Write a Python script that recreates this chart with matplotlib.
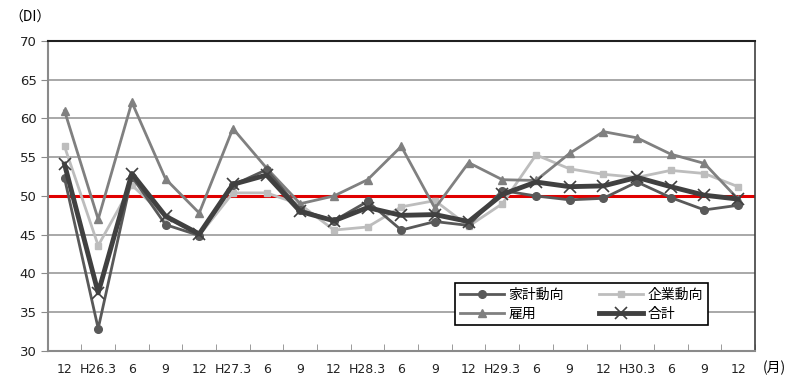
import matplotlib
matplotlib.use("Agg")
import matplotlib.pyplot as plt
import numpy as np

plt.rcParams["font.family"] = ["DejaVu Sans", "Noto Sans CJK JP"]

# quarterly survey points, H25.12 .. H30.12
months = ["12", "H26.3", "6", "9", "12", "H27.3", "6", "9", "12", "H28.3", "6",
          "9", "12", "H29.3", "6", "9", "12", "H30.3", "6", "9", "12"]

household = [52.3, 32.9, 52.5, 46.3, 44.9, 51.4, 53.4, 48.2, 46.8, 49.3, 45.6,
             46.7, 46.2, 50.7, 50.0, 49.5, 49.7, 51.8, 49.8, 48.2, 48.8]
corporate = [56.4, 43.6, 51.4, 47.3, 44.9, 50.4, 50.4, 48.9, 45.6, 46.0, 48.6,
             49.4, 46.1, 49.0, 55.3, 53.5, 52.8, 52.4, 53.3, 52.9, 51.2]
employment = [61.0, 47.0, 62.1, 52.2, 47.8, 58.7, 53.6, 49.0, 50.0, 52.1, 56.4,
              48.4, 54.3, 52.1, 52.0, 55.5, 58.3, 57.5, 55.4, 54.2, 49.6]
total = [54.1, 37.5, 52.9, 47.4, 45.1, 51.5, 52.7, 48.0, 46.8, 48.5, 47.5,
         47.6, 46.7, 50.2, 51.8, 51.2, 51.3, 52.4, 51.2, 50.1, 49.6]

x = np.arange(len(months))

fig = plt.figure(figsize=(7.88, 3.89), dpi=100)
ax = fig.add_axes([0.0605, 0.0977, 0.8975, 0.797])

for yv in range(35, 71, 5):
    ax.axhline(yv, color="#9a9a9a", lw=1.2, zorder=1)
ax.axhline(50, color="#e00000", lw=2.2, zorder=2)

ax.plot(x, household, color="#595959", lw=2, marker="o", ms=5.5, label="家計動向", zorder=4)
ax.plot(x, corporate, color="#bdbdbd", lw=2, marker="s", ms=5, label="企業動向", zorder=3)
ax.plot(x, employment, color="#808080", lw=2, marker="^", ms=5.5, label="雇用", zorder=3)
ax.plot(x, total, color="#404040", lw=3.5, marker="x", ms=9, mew=1.2, label="合計", zorder=5)

ax.set_xlim(-0.5, len(months) - 0.5)
ax.set_ylim(30, 70)
ax.set_yticks(range(30, 71, 5))
ax.set_xticks(x)
ax.set_xticklabels(months)
ax.set_xticks(np.arange(-0.5, len(months), 1), minor=True)
ax.tick_params(axis="x", which="major", length=0, labelsize=9, pad=9, colors="#222222")
ax.tick_params(axis="x", which="minor", length=5, direction="in", color="#8a8a8a")
ax.tick_params(axis="y", length=5, color="#8a8a8a", labelsize=9.5, labelcolor="#222222", pad=3)

for side in ["left", "bottom"]:
    ax.spines[side].set_color("#8a8a8a")
    ax.spines[side].set_linewidth(1.5)
ax.spines["top"].set_color("#202020")
ax.spines["top"].set_linewidth(1.5)
ax.spines["right"].set_color("#404040")
ax.spines["right"].set_linewidth(1.2)

h, l = ax.get_legend_handles_labels()
order = [0, 2, 1, 3]
leg = ax.legend([h[i] for i in order], [l[i] for i in order], ncol=2,
                loc="lower left", bbox_to_anchor=(0.566, 0.06), frameon=True,
                fancybox=False, edgecolor="black", framealpha=1, fontsize=10,
                handlelength=3.2, columnspacing=2.5, borderpad=0.35,
                labelspacing=0.35, handletextpad=0.3)
leg.get_frame().set_linewidth(1.2)

fig.text(0.012, 0.945, "（DI）", fontsize=10, family=["Noto Sans CJK JP"])
fig.text(0.997, 0.042, "(月)", fontsize=10, ha="right", family=["Noto Sans CJK JP"])

fig.savefig("out.png", dpi=100)
